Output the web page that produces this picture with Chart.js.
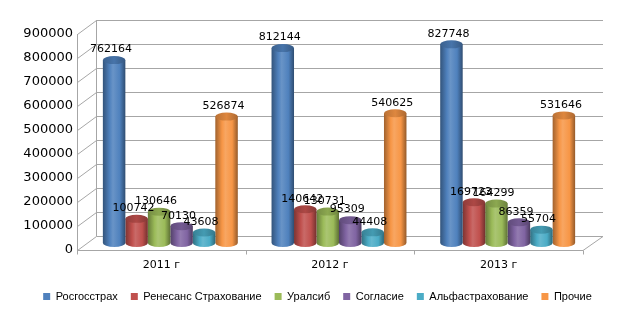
<!DOCTYPE html>
<html>
<head>
<meta charset="utf-8">
<script src="https://cdn.jsdelivr.net/npm/chart.js@4"></script>
<style>
  html, body { margin: 0; padding: 0; background: #fff; }
  #wrap { width: 633px; height: 316px; }
</style>
</head>
<body>
<div id="wrap"><canvas id="chartIns"></canvas></div>
<script>
const categories = ["2011 г", "2012 г", "2013 г"];
const seriesNames = ["Росгосстрах", "Ренесанс Страхование", "Уралсиб", "Согласие", "Альфастрахование", "Прочие"];
const rosgosstrakh = [762164, 812144, 827748];
const renessans = [100742, 140642, 169723];
const uralsib = [130646, 130731, 164299];
const soglasie = [70130, 95309, 86359];
const alfa = [43608, 44408, 55704];
const prochie = [526874, 540625, 531646];
const yMax = 900000;
const yStep = 100000;

const palette = ["#4F81BD", "#C0504D", "#9BBB59", "#8064A2", "#4BACC6", "#F79646"];
const seriesValues = [rosgosstrakh, renessans, uralsib, soglasie, alfa, prochie];

// depth of the fake 3d box
const DX = 19, DY = -14;
const BX = 9, BY = -7;
const FONT = "DejaVu Sans";

function mix(hex, target, t) {
    const n = parseInt(hex.slice(1), 16);
    const r = n >> 16, g = (n >> 8) & 255, b = n & 255;
    const m = v => Math.round(v + (target - v) * t);
    return `rgb(${m(r)},${m(g)},${m(b)})`;
}

const walls = {
    id: "walls",
    afterLayout(chart) {
        // legend sits a bit right of centre in the original
        if (chart.legend) {
            chart.legend.left += 26;
            chart.legend.right += 26;
        }
    },
    beforeDatasetsDraw(chart) {
        const { ctx, chartArea: a, scales: { y } } = chart;
        ctx.save();
        ctx.strokeStyle = "#a6a6a6";
        ctx.lineWidth = 1;
        ctx.beginPath();
        y.ticks.forEach(t => {
            const py = Math.round(y.getPixelForValue(t.value)) + 0.5;
            ctx.moveTo(a.left + 0.5, py);
            ctx.lineTo(a.left + DX + 0.5, py + DY);
            ctx.lineTo(a.right + DX + 1, py + DY);
        });
        const bot = Math.round(a.bottom) + 0.5;
        ctx.moveTo(a.left + 0.5, Math.round(a.top));
        ctx.lineTo(a.left + 0.5, bot + 4);
        ctx.moveTo(a.left + DX + 0.5, Math.round(a.top) + DY);
        ctx.lineTo(a.left + DX + 0.5, bot + DY);
        ctx.moveTo(a.left, bot);
        ctx.lineTo(a.right, bot);
        ctx.lineTo(a.right + DX + 1, bot + DY);
        const cw = (a.right - a.left) / categories.length;
        for (let i = 1; i <= categories.length; i++) {
            const px = Math.round(a.left + i * cw) + 0.5;
            ctx.moveTo(px, bot);
            ctx.lineTo(px, bot + 4);
        }
        ctx.stroke();
        ctx.restore();
    }
};

const cylinders = {
    id: "cylinders",
    beforeDatasetDraw(chart, args) {
        const { ctx } = chart;
        const base = palette[args.index];
        ctx.save();
        args.meta.data.forEach(bar => {
            const w = bar.width, rx = w / 2, ry = 4;
            const cx = bar.x + BX, top = bar.y + BY, bottom = bar.base + BY;
            const left = cx - rx, right = cx + rx;
            const grad = ctx.createLinearGradient(left, 0, right, 0);
            grad.addColorStop(0, mix(base, 0, 0.35));
            grad.addColorStop(0.3, base);
            grad.addColorStop(0.45, mix(base, 255, 0.15));
            grad.addColorStop(0.75, base);
            grad.addColorStop(1, mix(base, 0, 0.4));
            ctx.fillStyle = grad;
            ctx.beginPath();
            ctx.moveTo(left, top);
            ctx.lineTo(left, bottom);
            ctx.ellipse(cx, bottom, rx, ry, 0, Math.PI, 0, true);
            ctx.lineTo(right, top);
            ctx.closePath();
            ctx.fill();
            const tg = ctx.createLinearGradient(left, 0, right, 0);
            tg.addColorStop(0, mix(base, 0, 0.25));
            tg.addColorStop(0.5, mix(base, 0, 0.1));
            tg.addColorStop(1, mix(base, 0, 0.3));
            ctx.fillStyle = tg;
            ctx.beginPath();
            ctx.ellipse(cx, top, rx, ry, 0, 0, Math.PI * 2);
            ctx.fill();
        });
        ctx.restore();
        return false;
    },
    afterDatasetsDraw(chart) {
        const { ctx } = chart;
        ctx.save();
        ctx.font = `11px "${FONT}"`;
        ctx.fillStyle = "#000";
        ctx.textAlign = "center";
        ctx.textBaseline = "bottom";
        chart.data.datasets.forEach((ds, i) => {
            chart.getDatasetMeta(i).data.forEach((bar, j) => {
                ctx.fillText(String(ds.data[j]), bar.x + BX - 3, bar.y + BY - 5);
            });
        });
        ctx.restore();
    }
};

const ctx = document.getElementById("chartIns").getContext("2d");
new Chart(ctx, {
    type: "bar",
    data: {
        labels: categories,
        datasets: seriesNames.map((name, i) => ({
            label: name,
            data: seriesValues[i],
            backgroundColor: palette[i],
            borderWidth: 0,
            categoryPercentage: 0.8,
            barPercentage: 1.0
        }))
    },
    options: {
        responsive: true,
        maintainAspectRatio: false,
        animation: false,
        layout: { padding: { top: 34, right: 50, left: 0, bottom: 4 } },
        plugins: {
            legend: {
                position: "bottom",
                labels: {
                    boxWidth: 7,
                    boxHeight: 7,
                    padding: 13,
                    color: "#000",
                    font: { family: "Liberation Sans", size: 11 }
                }
            },
            tooltip: { enabled: false }
        },
        scales: {
            x: {
                grid: { display: false, drawTicks: false },
                border: { display: false },
                ticks: { color: "#000", padding: 9, font: { family: FONT, size: 11 } },
                afterFit: s => { s.height = 28; }
            },
            y: {
                min: 0,
                max: yMax,
                grid: { display: false, drawTicks: false },
                border: { display: false },
                ticks: {
                    stepSize: yStep,
                    color: "#000",
                    padding: 4,
                    font: { family: FONT, size: 13 },
                    callback: v => String(v)
                },
                afterFit: s => { s.width = 77; }
            }
        }
    },
    plugins: [walls, cylinders]
});
</script>
</body>
</html>
